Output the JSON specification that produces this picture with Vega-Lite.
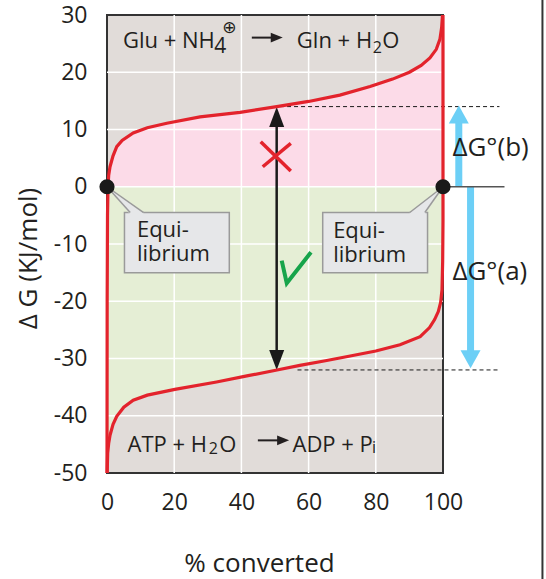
{
  "$schema": "https://vega.github.io/schema/vega-lite/v6.json",
  "autosize": {"type": "none"},
  "padding": {"left": 107, "top": 15, "right": 103, "bottom": 106},
  "width": 336,
  "height": 458,
  "background": "white",
  "config": {
    "view": {"fill": "#e1dcd9", "stroke": "#333333", "strokeWidth": 2},
    "axis": {"grid": false, "domain": false, "ticks": false, "labelFlush": false, "labelOverlap": false, "labelFont": "Open Sans", "labelFontSize": 23, "labelColor": "#231f20", "titleFont": "Open Sans", "titleFontSize": 26, "titleFontWeight": "normal", "titleColor": "#231f20"},
    "text": {"font": "Open Sans", "color": "#231f20", "align": "left", "baseline": "alphabetic"}
  },
  "datasets": {
    "upper": [
      {"x": 0, "y": -50}, {"x": 0.05, "y": -20}, {"x": 0.15, "y": -5}, {"x": 0.3, "y": 0}, {"x": 0.5, "y": 2}, {"x": 0.9, "y": 3.5}, {"x": 1.8, "y": 5.4}, {"x": 2.9, "y": 7.0}, {"x": 4.5, "y": 8.1}, {"x": 7.8, "y": 9.4}, {"x": 12, "y": 10.3}, {"x": 17.8, "y": 11.1}, {"x": 27.7, "y": 12.2}, {"x": 39.6, "y": 13.0}, {"x": 50.5, "y": 14.0}, {"x": 60, "y": 14.9}, {"x": 69.3, "y": 16.0}, {"x": 78.3, "y": 17.5}, {"x": 85, "y": 18.8}, {"x": 90, "y": 20.0}, {"x": 93.5, "y": 21.2}, {"x": 96.1, "y": 22.5}, {"x": 98, "y": 24.0}, {"x": 99.1, "y": 25.8}, {"x": 99.6, "y": 27.8}, {"x": 99.85, "y": 30}
    ],
    "lower": [
      {"x": 0.05, "y": -50}, {"x": 0.2, "y": -46.5}, {"x": 0.5, "y": -44.8}, {"x": 0.9, "y": -43.4}, {"x": 1.8, "y": -41.5}, {"x": 2.9, "y": -40.1}, {"x": 5, "y": -38.5}, {"x": 7.8, "y": -37.3}, {"x": 12, "y": -36.4}, {"x": 20.2, "y": -35.4}, {"x": 32.6, "y": -34.1}, {"x": 42, "y": -33.0}, {"x": 50.6, "y": -32.0}, {"x": 57.4, "y": -31.2}, {"x": 65, "y": -30.4}, {"x": 72, "y": -29.6}, {"x": 80, "y": -28.7}, {"x": 87.2, "y": -27.6}, {"x": 93.2, "y": -26.2}, {"x": 96, "y": -24.6}, {"x": 97.5, "y": -23.2}, {"x": 98.6, "y": -21.8}, {"x": 99.3, "y": -20.2}, {"x": 99.7, "y": -18}, {"x": 99.9, "y": -13}, {"x": 100, "y": -6}, {"x": 100, "y": 0}, {"x": 100, "y": 30}
    ],
    "vgrid": [{"x": 20, "y": -50, "y2": 30}, {"x": 40, "y": -50, "y2": 30}, {"x": 60, "y": -50, "y2": 30}, {"x": 80, "y": -50, "y2": 30}],
    "hgrid": [{"x": 0, "x2": 100, "y": -40}, {"x": 0, "x2": 100, "y": -30}, {"x": 0, "x2": 100, "y": -20}, {"x": 0, "x2": 100, "y": -10}, {"x": 0, "x2": 100, "y": 0}, {"x": 0, "x2": 100, "y": 10}, {"x": 0, "x2": 100, "y": 20}],
    "boxes": [{"x": 5.2, "x2": 36.4, "y": -4.5, "y2": -15}, {"x": 64.2, "x2": 95.4, "y": -4.5, "y2": -15}],
    "ptr1": [{"x": 0, "y": 0, "y2": 0}, {"x": 6.9, "y": -2.85, "y2": -4.8}, {"x": 10.9, "y": -4.5, "y2": -4.8}],
    "ptr2": [{"x": 90.1, "y": -4.5, "y2": -4.8}, {"x": 94.6, "y": -2.45, "y2": -4.8}, {"x": 100, "y": 0, "y2": 0}],
    "ptredges": [{"x": 0, "y": 0, "x2": 6.9, "y2": -4.5}, {"x": 0, "y": 0, "x2": 10.9, "y2": -4.5}, {"x": 100, "y": 0, "x2": 90.1, "y2": -4.5}, {"x": 100, "y": 0, "x2": 94.6, "y2": -4.5}],
    "dashes": [{"x": 51.5, "x2": 116.8, "y": 14}, {"x": 56.7, "x2": 116.8, "y": -32}],
    "zeroline": [{"x": 100, "x2": 118.3, "y": 0}],
    "frame": [{"x": 129.6, "y": 33, "y2": -69}],
    "blueshaft": [{"x": 104.7, "y": 0, "y2": 12.5}, {"x": 108.2, "y": 0, "y2": -30.2}],
    "blueup": [{"x": 104.7, "y": 14.2}],
    "bluedown": [{"x": 108.2, "y": -31.7}],
    "blackshaft": [{"x": 50.5, "y": 12.5, "y2": -30.5}],
    "blackup": [{"x": 50.5, "y": 13.95}],
    "blackdown": [{"x": 50.5, "y": -32}],
    "xmark": [{"x": 45.75, "y": 7.85, "x2": 54.7, "y2": 2.74}, {"x": 54.7, "y": 7.56, "x2": 46.35, "y2": 3.49}],
    "check": [{"x": 52.0, "y": -12.9}, {"x": 53.5, "y": -16.85}, {"x": 60.7, "y": -11.45}],
    "rxarrow": [{"x": 43.1, "x2": 50, "y": 26.05}, {"x": 44.9, "x2": 52, "y": -44.3}],
    "rxhead": [{"x": 52.3, "y": 26.05}, {"x": 54.2, "y": -44.3}],
    "dots": [{"x": 0, "y": 0}, {"x": 100, "y": 0}],
    "texts": [
      {"x": 4.75, "y": 24.15, "t": "Glu + NH"},
      {"x": 56.5, "y": 24.15, "t": "Gln + H"},
      {"x": 81.9, "y": 24.15, "t": "O"},
      {"x": 6.1, "y": -46.3, "t": "ATP + H"},
      {"x": 33.4, "y": -46.3, "t": "O"},
      {"x": 55.2, "y": -46.3, "t": "ADP + P"}
    ],
    "equi": [
      {"x": 8.9, "y": -8.8, "t": "Equi-\nlibrium"},
      {"x": 67.3, "y": -9.0, "t": "Equi-\nlibrium"}
    ],
    "subs": [{"x": 79.1, "y": 23.35, "t": "2"}, {"x": 30.3, "y": -46.6, "t": "2"}, {"x": 78.9, "y": -46.45, "t": "i"}],
    "sub4": [{"x": 31.9, "y": 23.3, "t": "4"}],
    "plus": [{"x": 36.4, "y": 27.7, "t": "⊕"}],
    "dg": [{"x": 102.8, "y": 5.4, "t": "ΔG°(b)"}, {"x": 102.8, "y": -16.3, "t": "ΔG°(a)"}]
  },
  "encoding": {
    "x": {"field": "x", "type": "quantitative", "scale": {"domain": [0, 100], "nice": false, "zero": false}, "axis": {"values": [0, 20, 40, 60, 80, 100], "labelExpr": "'' + datum.value", "labelPadding": 36, "labelBaseline": "alphabetic", "titleX": 152, "titleY": 98, "titleBaseline": "alphabetic"}, "title": "% converted"},
    "y": {"field": "y", "type": "quantitative", "scale": {"domain": [-50, 30], "nice": false, "zero": false}, "axis": {"values": [-50, -40, -30, -20, -10, 0, 10, 20, 30], "labelExpr": "'' + datum.value", "labelPadding": 20, "titleX": -71, "titleY": 243, "titleBaseline": "alphabetic"}, "title": "Δ G (KJ/mol)"}
  },
  "layer": [
    {"data": {"name": "upper"}, "transform": [{"filter": "datum.y >= 0"}], "mark": {"type": "area", "color": "#fcdbe8", "opacity": 1}, "encoding": {"y2": {"datum": 0}, "order": {"value": null}}},
    {"data": {"name": "lower"}, "transform": [{"filter": "datum.y <= 0"}], "mark": {"type": "area", "color": "#e5eed5", "opacity": 1}, "encoding": {"y2": {"datum": 0}, "order": {"value": null}}},
    {"data": {"name": "vgrid"}, "mark": {"type": "rule", "color": "white", "strokeWidth": 1.5}, "encoding": {"y2": {"field": "y2"}}},
    {"data": {"name": "hgrid"}, "mark": {"type": "rule", "color": "white", "strokeWidth": 1.5}, "encoding": {"x2": {"field": "x2"}}},
    {"data": {"name": "boxes"}, "mark": {"type": "rect", "fill": "#e6e7e9", "stroke": "#9a9a9a", "strokeWidth": 1.5}, "encoding": {"x2": {"field": "x2"}, "y2": {"field": "y2"}}},
    {"data": {"name": "ptr1"}, "mark": {"type": "area", "color": "#e6e7e9", "opacity": 1}, "encoding": {"y2": {"field": "y2"}}},
    {"data": {"name": "ptr2"}, "mark": {"type": "area", "color": "#e6e7e9", "opacity": 1}, "encoding": {"y2": {"field": "y2"}}},
    {"data": {"name": "ptredges"}, "mark": {"type": "rule", "color": "#9a9a9a", "strokeWidth": 1.5}, "encoding": {"x2": {"field": "x2"}, "y2": {"field": "y2"}}},
    {"data": {"name": "dashes"}, "mark": {"type": "rule", "color": "#1a1a1a", "strokeWidth": 1, "strokeDash": [4, 3]}, "encoding": {"x2": {"field": "x2"}}},
    {"data": {"name": "frame"}, "mark": {"type": "rule", "color": "#333333", "strokeWidth": 2}, "encoding": {"y2": {"field": "y2"}}},
    {"data": {"name": "blueshaft"}, "mark": {"type": "rule", "color": "#6ccff6", "strokeWidth": 7}, "encoding": {"y2": {"field": "y2"}}},
    {"data": {"name": "blueup"}, "mark": {"type": "point", "shape": "M0,0L-1,1.8L1,1.8Z", "size": 400, "filled": true, "color": "#6ccff6", "opacity": 1}},
    {"data": {"name": "bluedown"}, "mark": {"type": "point", "shape": "M0,0L-1,-1.8L1,-1.8Z", "size": 400, "filled": true, "color": "#6ccff6", "opacity": 1}},
    {"data": {"name": "zeroline"}, "mark": {"type": "rule", "color": "#555555", "strokeWidth": 1.5}, "encoding": {"x2": {"field": "x2"}}},
    {"data": {"name": "blackshaft"}, "mark": {"type": "rule", "color": "#1a1a1a", "strokeWidth": 2.5}, "encoding": {"y2": {"field": "y2"}}},
    {"data": {"name": "blackup"}, "mark": {"type": "point", "shape": "M0,0L-0.75,2L0.75,2Z", "size": 400, "filled": true, "color": "#1a1a1a", "opacity": 1}},
    {"data": {"name": "blackdown"}, "mark": {"type": "point", "shape": "M0,0L-0.75,-2L0.75,-2Z", "size": 400, "filled": true, "color": "#1a1a1a", "opacity": 1}},
    {"data": {"name": "xmark"}, "mark": {"type": "rule", "color": "#e3232c", "strokeWidth": 3.5}, "encoding": {"x2": {"field": "x2"}, "y2": {"field": "y2"}}},
    {"data": {"name": "check"}, "mark": {"type": "line", "color": "#17a44b", "strokeWidth": 4, "strokeJoin": "miter"}, "encoding": {"order": {"value": null}}},
    {"data": {"name": "upper"}, "mark": {"type": "line", "color": "#e3232c", "strokeWidth": 3.2}, "encoding": {"order": {"value": null}}},
    {"data": {"name": "lower"}, "mark": {"type": "line", "color": "#e3232c", "strokeWidth": 3.2}, "encoding": {"order": {"value": null}}},
    {"data": {"name": "rxarrow"}, "mark": {"type": "rule", "color": "#231f20", "strokeWidth": 2}, "encoding": {"x2": {"field": "x2"}}},
    {"data": {"name": "rxhead"}, "mark": {"type": "point", "shape": "M0,0L-2,-0.8L-2,0.8Z", "size": 144, "filled": true, "color": "#231f20", "opacity": 1}},
    {"data": {"name": "dots"}, "mark": {"type": "circle", "size": 230, "color": "#1a1a1a", "opacity": 1}},
    {"data": {"name": "texts"}, "mark": {"type": "text", "fontSize": 22}, "encoding": {"text": {"field": "t"}}},
    {"data": {"name": "equi"}, "mark": {"type": "text", "fontSize": 22, "lineBreak": "\n", "lineHeight": 24}, "encoding": {"text": {"field": "t"}}},
    {"data": {"name": "subs"}, "mark": {"type": "text", "fontSize": 16}, "encoding": {"text": {"field": "t"}}},
    {"data": {"name": "sub4"}, "mark": {"type": "text", "fontSize": 21}, "encoding": {"text": {"field": "t"}}},
    {"data": {"name": "plus"}, "mark": {"type": "text", "fontSize": 17, "align": "center", "baseline": "middle", "font": "DejaVu Sans"}, "encoding": {"text": {"field": "t"}}},
    {"data": {"name": "dg"}, "mark": {"type": "text", "fontSize": 26}, "encoding": {"text": {"field": "t"}}}
  ]
}
